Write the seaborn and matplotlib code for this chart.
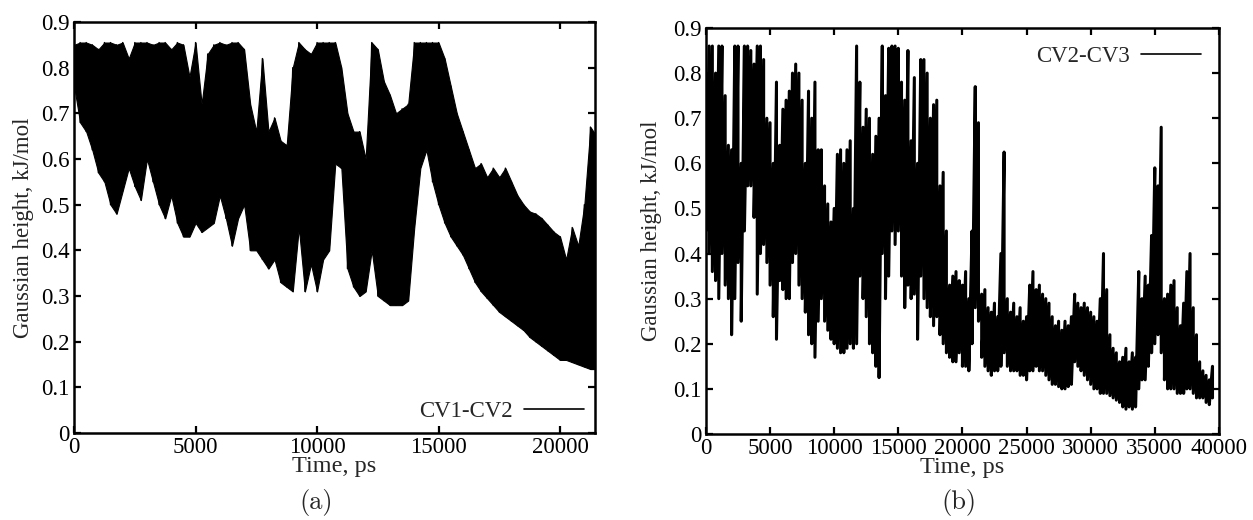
import numpy as np
import matplotlib
matplotlib.use("Agg")
import matplotlib.pyplot as plt
import seaborn as sns

# sampling grid (ps) and envelope of the Gaussian height
time_a = np.arange(0, 21750, 250)
hi_a = [0.85, 0.855, 0.855, 0.85, 0.84, 0.855, 0.855, 0.85, 0.855, 0.82,
        0.855, 0.855, 0.855, 0.85, 0.855, 0.855, 0.84, 0.855, 0.85, 0.78,
        0.855, 0.72, 0.83, 0.85, 0.855, 0.85, 0.855, 0.855, 0.84, 0.72,
        0.66, 0.82, 0.66, 0.69, 0.64, 0.63, 0.80, 0.855, 0.84, 0.83,
        0.855, 0.855, 0.855, 0.855, 0.80, 0.70, 0.66, 0.66, 0.60, 0.855,
        0.84, 0.77, 0.74, 0.70, 0.71, 0.72, 0.855, 0.855, 0.855, 0.855,
        0.855, 0.82, 0.76, 0.70, 0.66, 0.62, 0.58, 0.59, 0.56, 0.58,
        0.56, 0.58, 0.55, 0.52, 0.50, 0.485, 0.48, 0.47, 0.455, 0.44,
        0.43, 0.38, 0.45, 0.41, 0.50, 0.67, 0.65]
lo_a = [0.76, 0.68, 0.66, 0.62, 0.57, 0.55, 0.50, 0.48, 0.53, 0.58,
        0.54, 0.51, 0.60, 0.55, 0.50, 0.47, 0.52, 0.46, 0.43, 0.43,
        0.46, 0.44, 0.45, 0.46, 0.52, 0.47, 0.41, 0.47, 0.50, 0.40,
        0.40, 0.38, 0.36, 0.38, 0.33, 0.32, 0.31, 0.45, 0.31, 0.37,
        0.31, 0.38, 0.40, 0.59, 0.58, 0.36, 0.32, 0.30, 0.31, 0.40,
        0.30, 0.29, 0.28, 0.28, 0.28, 0.29, 0.45, 0.58, 0.62, 0.55,
        0.50, 0.46, 0.43, 0.41, 0.39, 0.36, 0.33, 0.31, 0.295, 0.28,
        0.265, 0.255, 0.245, 0.235, 0.225, 0.21, 0.20, 0.19, 0.18, 0.17,
        0.16, 0.16, 0.155, 0.15, 0.145, 0.14, 0.14]

time_b = np.arange(0, 39750, 250)
hi_b = [0.80, 0.86, 0.86, 0.80, 0.86, 0.86, 0.75, 0.64, 0.63, 0.86,
        0.86, 0.60, 0.86, 0.86, 0.85, 0.82, 0.86, 0.86, 0.83, 0.70,
        0.69, 0.60, 0.78, 0.64, 0.72, 0.74, 0.76, 0.80, 0.82, 0.80,
        0.74, 0.60, 0.76, 0.70, 0.78, 0.63, 0.63, 0.55, 0.51, 0.47,
        0.50, 0.62, 0.63, 0.60, 0.63, 0.65, 0.50, 0.86, 0.78, 0.68,
        0.72, 0.70, 0.62, 0.66, 0.70, 0.86, 0.75, 0.855, 0.86, 0.86,
        0.855, 0.78, 0.74, 0.85, 0.65, 0.79, 0.60, 0.83, 0.83, 0.80,
        0.70, 0.73, 0.74, 0.55, 0.58, 0.45, 0.33, 0.35, 0.36, 0.34,
        0.33, 0.36, 0.30, 0.45, 0.77, 0.69, 0.31, 0.32, 0.28, 0.27,
        0.29, 0.26, 0.40, 0.625, 0.30, 0.27, 0.29, 0.26, 0.28, 0.25,
        0.26, 0.33, 0.36, 0.32, 0.33, 0.31, 0.30, 0.29, 0.26, 0.24,
        0.25, 0.23, 0.25, 0.24, 0.26, 0.31, 0.29, 0.28, 0.29, 0.28,
        0.27, 0.26, 0.25, 0.30, 0.40, 0.32, 0.22, 0.19, 0.18, 0.16,
        0.17, 0.19, 0.16, 0.18, 0.17, 0.36, 0.30, 0.35, 0.33, 0.44,
        0.59, 0.55, 0.68, 0.30, 0.31, 0.33, 0.34, 0.28, 0.24, 0.29,
        0.36, 0.40, 0.28, 0.22, 0.16, 0.14, 0.13, 0.12, 0.15]
lo_b = [0.45, 0.40, 0.36, 0.34, 0.30, 0.40, 0.33, 0.30, 0.22, 0.30,
        0.38, 0.25, 0.45, 0.55, 0.55, 0.48, 0.31, 0.40, 0.42, 0.38,
        0.33, 0.26, 0.21, 0.34, 0.32, 0.30, 0.30, 0.38, 0.40, 0.33,
        0.30, 0.27, 0.22, 0.20, 0.17, 0.25, 0.30, 0.25, 0.23, 0.21,
        0.20, 0.19, 0.18, 0.18, 0.19, 0.20, 0.19, 0.20, 0.35, 0.30,
        0.26, 0.20, 0.18, 0.15, 0.125, 0.40, 0.30, 0.35, 0.45, 0.42,
        0.45, 0.35, 0.28, 0.33, 0.30, 0.31, 0.21, 0.35, 0.30, 0.28,
        0.26, 0.24, 0.26, 0.22, 0.20, 0.18, 0.17, 0.16, 0.16, 0.18,
        0.15, 0.15, 0.14, 0.20, 0.28, 0.25, 0.17, 0.15, 0.14, 0.13,
        0.14, 0.14, 0.15, 0.18, 0.15, 0.14, 0.14, 0.14, 0.13, 0.13,
        0.12, 0.14, 0.14, 0.15, 0.14, 0.14, 0.13, 0.12, 0.11, 0.11,
        0.105, 0.10, 0.10, 0.105, 0.11, 0.16, 0.15, 0.14, 0.13, 0.12,
        0.11, 0.10, 0.10, 0.09, 0.09, 0.09, 0.085, 0.08, 0.075, 0.07,
        0.06, 0.055, 0.06, 0.055, 0.06, 0.10, 0.12, 0.12, 0.15, 0.18,
        0.20, 0.22, 0.18, 0.12, 0.10, 0.10, 0.10, 0.09, 0.09, 0.09,
        0.10, 0.10, 0.09, 0.08, 0.08, 0.08, 0.07, 0.065, 0.08]

y_ticks = [0, 0.1, 0.2, 0.3, 0.4, 0.5, 0.6, 0.7, 0.8, 0.9]
y_tick_labels = ["0", "0.1", "0.2", "0.3", "0.4", "0.5", "0.6", "0.7", "0.8", "0.9"]
x_ticks_a = [0, 5000, 10000, 15000, 20000]
x_ticks_b = [0, 5000, 10000, 15000, 20000, 25000, 30000, 35000, 40000]

sns.set_theme(style="ticks")
plt.rcParams['font.family'] = ['Liberation Serif', 'DejaVu Serif']
FS = 16.5


def zigzag(t, hi, lo):
    # hi and lo at the same time step, visited in turn
    return np.repeat(t, 2), np.column_stack([hi, lo]).ravel()


def draw_panel(ax, t, hi, lo, label, xmax, xticks, lw, fill, legend_loc, leg_pad):
    if fill:
        # the trace is too dense to resolve: shade between its envelopes
        ax.fill_between(t, lo, hi, color="black", linewidth=0.8, edgecolor="black")
    tz, yz = zigzag(t, hi, lo)
    sns.lineplot(x=tz, y=yz, ax=ax, color="black", linewidth=lw,
                 estimator=None, sort=False, label=label)
    ax.set_xlim(0, xmax)
    ax.set_ylim(0, 0.9)
    ax.set_xticks(xticks)
    ax.set_xticklabels([str(x) for x in xticks])
    ax.set_yticks(y_ticks)
    ax.set_yticklabels(y_tick_labels)
    ax.tick_params(direction="in", length=5, width=1.6, top=True, right=True,
                   labelsize=FS, pad=3, colors="black")
    for sp in ax.spines.values():
        sp.set_linewidth(1.8)
        sp.set_color("black")
    ax.set_xlabel("Time, ps", fontsize=17.5, va="top")
    ax.set_ylabel("Gaussian height, kJ/mol", fontsize=FS)
    ax.xaxis.set_label_coords(0.5, -0.057)
    leg = ax.legend(loc=legend_loc, frameon=False, markerfirst=False, fontsize=FS,
                    handlelength=2.6, handletextpad=0.5, borderaxespad=leg_pad)
    for h in leg.get_lines():
        h.set_linewidth(1.2)


fig = plt.figure(figsize=(12.53, 5.2), dpi=100)
ax_a = fig.add_axes([0.0591, 0.1673, 0.4158, 0.7904])
ax_b = fig.add_axes([0.5634, 0.1654, 0.4094, 0.7808])

draw_panel(ax_a, time_a, hi_a, lo_a, "CV1-CV2", 21440, x_ticks_a, 1.0, True, "lower right", 0.1)
draw_panel(ax_b, time_b, hi_b, lo_b, "CV2-CV3", 40000, x_ticks_b, 2.2, False, "upper right", 0.4)
ax_a.yaxis.set_label_coords(-0.076, 0.5)
ax_b.yaxis.set_label_coords(-0.085, 0.5)

fig.text(316 / 1253, 1 - 502 / 520, "(a)", ha="center", va="center", fontsize=19, family="cmr10")
fig.text(959 / 1253, 1 - 502 / 520, "(b)", ha="center", va="center", fontsize=19, family="cmr10")

fig.savefig("out.png", dpi=100)
